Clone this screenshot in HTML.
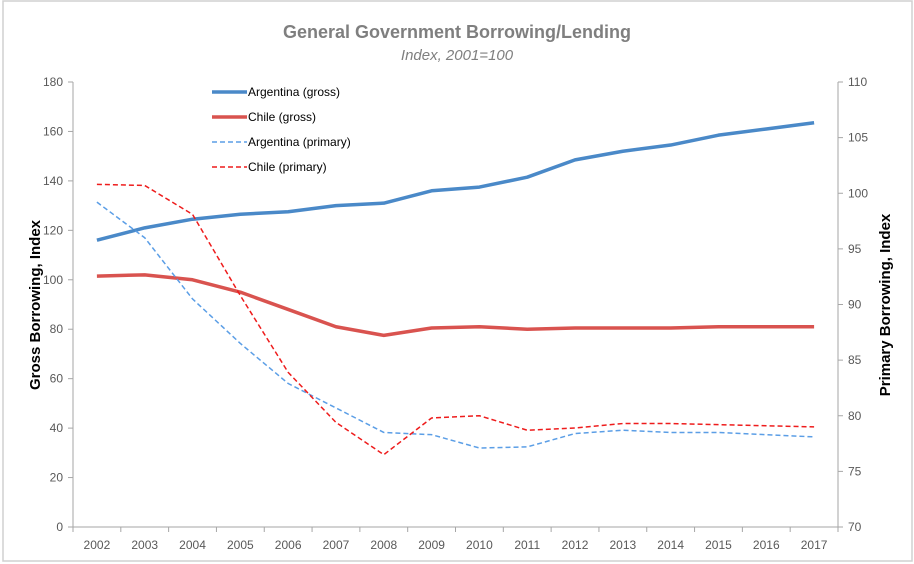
<!DOCTYPE html>
<html><head><meta charset="utf-8"><style>
body{margin:0;background:#fff;font-family:"Liberation Sans",sans-serif}
svg{display:block}
</style></head><body>
<svg id="c" width="914" height="564">
<rect x="3" y="1" width="909" height="560" fill="#fff" stroke="#d0d0d0" stroke-width="1.5"/>
<text x="457" y="38" text-anchor="middle" font-size="18" font-weight="bold" fill="#7f7f7f">General Government Borrowing/Lending</text>
<text x="457" y="60" text-anchor="middle" font-size="15" font-style="italic" fill="#7f7f7f">Index, 2001=100</text>
<text transform="translate(40,305) rotate(-90)" text-anchor="middle" font-size="15" font-weight="bold" fill="#000">Gross Borrowing, Index</text>
<text transform="translate(890,305) rotate(-90)" text-anchor="middle" font-size="15" font-weight="bold" fill="#000">Primary Borrowing, Index</text>
<g id="axes"></g><g id="series"></g><g id="legend"></g>
</svg>
<script>
const years=[2002,2003,2004,2005,2006,2007,2008,2009,2010,2011,2012,2013,2014,2015,2016,2017];
const argGross=[116,121,124.5,126.5,127.5,130,131,136,137.5,141.5,148.5,152,154.5,158.5,161,163.5];
const chileGross=[101.5,102,100,95,88,81,77.5,80.5,81,80,80.5,80.5,80.5,81,81,81];
const argPrimary=[99.2,96.0,90.5,86.5,82.9,80.7,78.5,78.3,77.1,77.2,78.4,78.7,78.5,78.5,78.3,78.1];
const chilePrimary=[100.8,100.7,98.1,90.8,83.9,79.4,76.5,79.8,80.0,78.7,78.9,79.3,79.3,79.2,79.1,79.0];
const leftTicks=[0,20,40,60,80,100,120,140,160,180];
const rightTicks=[70,75,80,85,90,95,100,105,110];
const NS="http://www.w3.org/2000/svg";
const X0=73,X1=838,Y0=527,Y1=82;
const bw=(X1-X0)/years.length;
const x=i=>X0+bw*(i+0.5);
const yL=v=>Y0-(v-0)/(180-0)*(Y0-Y1);
const yR=v=>Y0-(v-70)/(110-70)*(Y0-Y1);
function mk(t,a,p){const e=document.createElementNS(NS,t);for(const k in a)e.setAttribute(k,a[k]);p.appendChild(e);return e;}
const ax=document.getElementById('axes');
const gray="#a6a6a6",tc="#595959";
let l=mk('line',{x1:X0,y1:Y1,x2:X0,y2:Y0,stroke:gray},ax);


l=mk('line',{x1:X1,y1:Y1,x2:X1,y2:Y0,stroke:gray},ax);


l=mk('line',{x1:X0,y1:Y0,x2:X1,y2:Y0,stroke:gray},ax);


leftTicks.forEach(v=>{const y=yL(v);mk('line',{x1:X0-5,y1:y,x2:X0,y2:y,stroke:gray},ax);
const t=mk('text',{x:X0-10,y:y+4,'text-anchor':'end','font-size':12,fill:tc},ax);t.textContent=v;

});
rightTicks.forEach(v=>{const y=yR(v);mk('line',{x1:X1,y1:y,x2:X1+5,y2:y,stroke:gray},ax);
const t=mk('text',{x:X1+10,y:y+4,'font-size':12,fill:tc},ax);t.textContent=v;

});
years.forEach((yr,i)=>{mk('line',{x1:X0+bw*i,y1:Y0,x2:X0+bw*i,y2:Y0+5,stroke:gray},ax);
const t=mk('text',{x:x(i),y:Y0+22,'text-anchor':'middle','font-size':12,fill:tc},ax);t.textContent=yr;

});
mk('line',{x1:X1,y1:Y0,x2:X1,y2:Y0+5,stroke:gray},ax);
const sg=document.getElementById('series');
const defs=[
 {d:argGross,f:yL,c:'#4a89c8',w:3.5,dash:'',n:'argentina-gross',lab:'Argentina (gross)'},
 {d:chileGross,f:yL,c:'#d9534f',w:3.5,dash:'',n:'chile-gross',lab:'Chile (gross)'},
 {d:argPrimary,f:yR,c:'#5b9ee6',w:1.5,dash:'5,3',n:'argentina-primary',lab:'Argentina (primary)'},
 {d:chilePrimary,f:yR,c:'#ee1c1c',w:1.5,dash:'5,3',n:'chile-primary',lab:'Chile (primary)'}];
const lg=document.getElementById('legend');
defs.forEach((s,k)=>{
 const p=mk('polyline',{points:s.d.map((v,i)=>x(i)+','+s.f(v)).join(' '),fill:'none',stroke:s.c,'stroke-width':s.w,'stroke-dasharray':s.dash,'stroke-linejoin':'round'},sg);
 
 
 const ly=92+k*25;
 const g=mk('g',{},lg);
 
 
 mk('line',{x1:212,y1:ly,x2:247,y2:ly,stroke:s.c,'stroke-width':s.w,'stroke-dasharray':s.dash},g);
 const t=mk('text',{x:248,y:ly+4,'font-size':12,fill:'#000'},g);t.textContent=s.lab;
});
</script>
</body></html>
